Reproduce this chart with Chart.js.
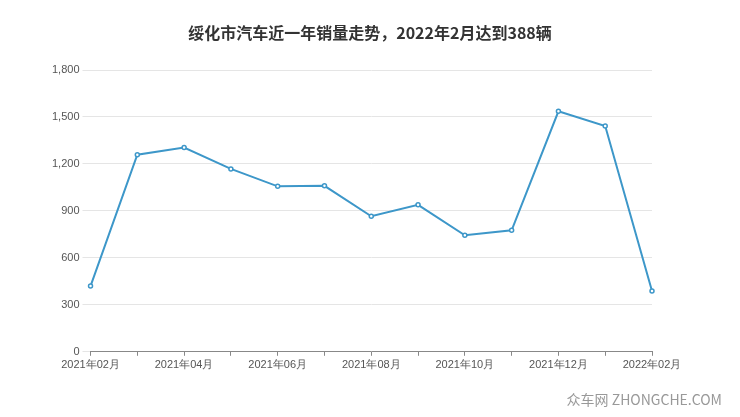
<!DOCTYPE html>
<html><head><meta charset="utf-8">
<script src="https://cdn.jsdelivr.net/npm/chart.js@4/dist/chart.umd.min.js"></script>
<style>body{margin:0;background:#fff}#w{position:relative;width:740px;height:417px}
#t{position:absolute;left:0;width:740px;top:20px;text-align:center;font:bold 16px "Noto Sans CJK SC",sans-serif;color:#333}
#wm{position:absolute;right:18px;bottom:8px;font:14px "Noto Sans CJK SC",sans-serif;color:#999}</style>
</head><body><div id="w"><canvas id="c" width="740" height="417"></canvas><div id="t"></div><div id="wm">众车网 ZHONGCHE.COM</div></div>
<script>
const months=["2021年02月","2021年03月","2021年04月","2021年05月","2021年06月","2021年07月","2021年08月","2021年09月","2021年10月","2021年11月","2021年12月","2022年01月","2022年02月"];
const sales=[420,1259,1305,1168,1057,1060,866,939,744,776,1536,1442,388];
const title="绥化市汽车近一年销量走势，2022年2月达到388辆";
document.getElementById('t').textContent=title;
new Chart(document.getElementById('c'),{type:'line',
data:{labels:months,datasets:[{data:sales,borderColor:'#3d97c9',borderWidth:2,tension:0,
pointRadius:2,pointBorderWidth:1.5,pointBackgroundColor:'#fff',pointBorderColor:'#3d97c9'}]},
options:{responsive:false,animation:false,
layout:{padding:{left:49,right:88,top:70,bottom:42}},
plugins:{legend:{display:false}},
scales:{x:{offset:false,grid:{display:true,drawOnChartArea:false,tickLength:4,color:'#888'},border:{color:'#888'},
ticks:{autoSkip:false,maxRotation:0,color:'#555',font:{size:11},callback:(v,i)=>i%2===0?months[i]:''}},
y:{min:0,max:1800,border:{display:false},grid:{color:'#e5e5e5'},
ticks:{stepSize:300,color:'#555',font:{size:11},callback:v=>v.toLocaleString('en-US')}}}}});
</script></body></html>
